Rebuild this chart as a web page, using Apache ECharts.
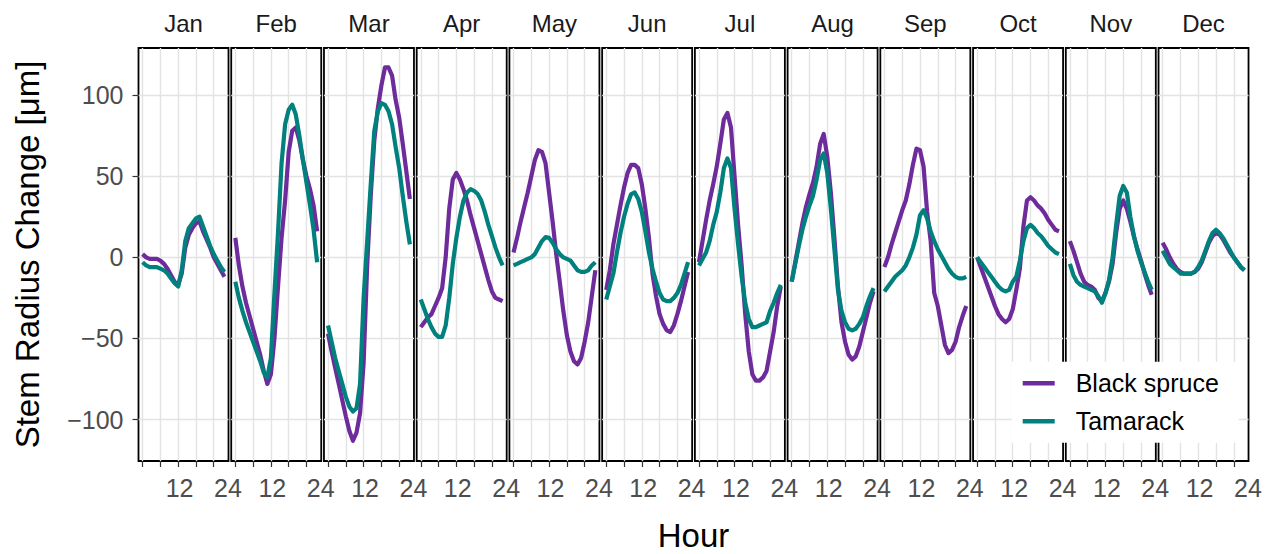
<!DOCTYPE html>
<html>
<head>
<meta charset="utf-8">
<script src="https://cdn.jsdelivr.net/npm/echarts@6/dist/echarts.min.js"></script>
<style>
html,body{margin:0;padding:0;background:#fff;}
#c{width:1276px;height:554px;}
</style>
</head>
<body>
<div id="c"></div>
<script>
// ---------------- data ----------------
const months = ['Jan','Feb','Mar','Apr','May','Jun','Jul','Aug','Sep','Oct','Nov','Dec'];
const hours = [0,1,2,3,4,5,6,7,8,9,10,11,12,13,14,15,16,17,18,19,20,21,22,23];
const seriesNames = ['Black spruce','Tamarack'];
const yTicks = [-100,-50,0,50,100];
const xTicks = [0,5,10,15,20];
const xTickLabels = ['12','24'];
const xTickLabelHours = [10.4,24];

// Black spruce, one row per month (hour 0..23)
const blackSpruce = [
  [2,0,-1,-1,-1,-2,-4,-7,-11,-15,-17,-10,6,14,18,21,22,16,11,6,0,-4,-8,-12],
  [12,-5,-18,-28,-36,-44,-52,-60,-70,-78,-72,-50,-18,12,35,65,78,80,72,60,50,42,32,16],
  [-47,-58,-68,-78,-88,-98,-107,-113,-108,-96,-65,-5,38,72,92,106,117,117,112,97,86,70,53,36],
  [-43,-40,-37,-35,-30,-25,-19,0,30,48,52,48,42,35,26,18,10,2,-6,-14,-21,-25,-26,-27],
  [3,12,22,31,40,50,60,66,65,58,40,22,2,-15,-33,-48,-58,-64,-66,-62,-52,-40,-24,-8],
  [-20,-8,8,20,32,43,52,57,57,55,45,30,12,-10,-24,-35,-41,-45,-46,-42,-35,-27,-18,-9],
  [-3,10,23,35,45,56,70,85,89,80,50,20,-5,-35,-58,-72,-76,-76,-74,-70,-58,-46,-30,-18],
  [-15,-3,9,21,31,39,46,56,70,76,62,40,12,-18,-40,-52,-60,-63,-61,-55,-46,-37,-28,-21],
  [-6,0,8,15,22,29,35,45,57,67,66,56,28,10,-22,-30,-42,-54,-59,-57,-52,-43,-36,-30],
  [0,-6,-12,-18,-24,-30,-35,-38,-40,-38,-32,-20,-7,19,35,37,35,32,30,27,23,20,17,16],
  [10,4,-3,-10,-15,-17,-18,-20,-25,-27,-22,-15,-4,15,30,35,30,22,13,5,-2,-10,-17,-23],
  [9,5,0,-4,-7,-9,-10,-10,-10,-9,-7,-3,3,9,13,15,14,11,7,3,0,-3,-6,-8]
];
// Tamarack, one row per month (hour 0..23)
const tamarack = [
  [-3,-5,-6,-6,-6,-7,-8,-10,-13,-16,-18,-8,10,18,21,24,25,19,13,7,2,-2,-6,-9],
  [-15,-25,-33,-40,-46,-52,-58,-64,-71,-74,-62,-22,15,58,82,91,94,88,75,60,46,32,17,-3],
  [-42,-52,-62,-70,-78,-86,-92,-95,-93,-78,-25,10,45,78,90,95,94,90,82,68,55,38,22,8],
  [-26,-32,-38,-43,-47,-49,-49,-42,-25,-4,12,25,35,40,42,41,39,35,28,20,13,6,0,-5],
  [-5,-4,-3,-2,-1,0,2,6,10,12.5,12,9,5,2,0,-1,-2,-5,-8,-9,-9,-8,-5,-3],
  [-26,-18,-10,3,15,25,33,39,40,36,28,16,3,-7,-15,-22,-26,-27,-27,-25,-22,-17,-10,-3],
  [-5,-1,3,10,20,28,40,55,61,55,30,8,-12,-28,-38,-43,-43,-42,-41,-40,-33,-28,-22,-17],
  [-15,-4,7,17,25,32,38,48,60,64,52,30,5,-20,-33,-40,-44,-45,-44,-41,-37,-30,-24,-19],
  [-21,-18,-15,-12,-10,-8,-5,0,6,14,26,29,24,16,10,5,1,-3,-7,-10,-12,-13,-13,-12],
  [0,-3,-6,-9,-12,-15,-18,-20,-21,-20,-15,-12,-2,10,18,20,18,15,13,10,7,5,3,2],
  [-4,-11,-15,-17,-18,-19,-20,-21,-24,-28,-22,-14,0,20,38,44,40,25,13,4,-3,-9,-15,-20],
  [4,0,-4,-6,-8,-10,-10,-10,-10,-9,-6,-2,4,10,15,17,15,12,8,4,0,-3,-6,-8]
];

// ---------------- layout / style ----------------
const FONT = "'Liberation Sans', Arial, Helvetica, sans-serif";
const COLORS = ['#6E2B9B', '#00817D'];
const L0 = 138.5, W = 90, STEP = 92.73, TOP = 48, H = 413;
const YMIN = -125.5, YMAX = 129, XMIN = -1.15, XMAX = 24.15;
const GRID_COLOR = '#e3e3e3';

const grids = [], xAxes = [], yAxes = [], series = [], titles = [];
months.forEach((m, i) => {
  grids.push({
    left: L0 + i * STEP, top: TOP, width: W, height: H,
    show: true, borderColor: '#000', borderWidth: 1.8, backgroundColor: '#fff',
    containLabel: false, outerBoundsMode: 'none'
  });
  xAxes.push({
    gridIndex: i, type: 'value', min: XMIN, max: XMAX,
    axisLine: {show: false, onZero: false},
    axisTick: {show: true, customValues: xTicks, length: 6, lineStyle: {color: '#333', width: 1.2}},
    axisLabel: {
      customValues: xTickLabelHours,
      formatter: v => xTickLabels[xTickLabelHours.indexOf(v)] || '',
      margin: 14, fontSize: 25, color: '#4d4d4d', fontFamily: FONT
    },
    splitLine: {show: true, lineStyle: {color: GRID_COLOR, width: 1.4}}
  });
  yAxes.push({
    gridIndex: i, type: 'value', min: YMIN, max: YMAX,
    axisLine: {show: false, onZero: false},
    axisTick: {show: i === 0, customValues: yTicks, length: 6, lineStyle: {color: '#333', width: 1.2}},
    axisLabel: {show: i === 0, customValues: yTicks, margin: 15, fontSize: 25, color: '#4d4d4d', fontFamily: FONT,
      formatter: v => (v < 0 ? '\u2212' + Math.abs(v) : String(v))},
    splitLine: {show: true, lineStyle: {color: GRID_COLOR, width: 1.4}},
    name: i === 0 ? 'Stem Radius Change [\u03bcm]' : '',
    nameLocation: 'middle', nameRotate: 90, nameGap: 95,
    nameTextStyle: {fontSize: 33, color: '#000', fontFamily: FONT}
  });
  [blackSpruce, tamarack].forEach((src, s) => {
    series.push({
      type: 'line', name: seriesNames[s], xAxisIndex: i, yAxisIndex: i,
      data: hours.map((h, k) => [h, src[i][k]]),
      showSymbol: false, symbol: 'none', animation: false,
      lineStyle: {width: 4.2, color: COLORS[s], cap: 'butt', join: 'round'},
      itemStyle: {color: COLORS[s]}
    });
  });
  titles.push({
    text: m, left: L0 + i * STEP + W / 2, top: 23.9, padding: 0,
    textAlign: 'center', textVerticalAlign: 'middle',
    textStyle: {fontSize: 24, fontWeight: 'normal', color: '#1a1a1a', fontFamily: FONT}
  });
});

// overlay grid carrying the shared x-axis title
grids.push({left: L0, top: TOP, width: 11 * STEP + W, height: H, show: false, containLabel: false, outerBoundsMode: 'none'});
xAxes.push({
  gridIndex: 12, type: 'value', min: 0, max: 1,
  axisLine: {show: false, onZero: false}, axisTick: {show: false}, axisLabel: {show: false}, splitLine: {show: false},
  name: 'Hour', nameLocation: 'middle', nameGap: 58,
  nameTextStyle: {fontSize: 33, color: '#000', fontFamily: FONT}
});
yAxes.push({gridIndex: 12, type: 'value', min: 0, max: 1, show: false});

const option = {
  animation: false,
  backgroundColor: '#fff',
  title: titles,
  grid: grids,
  xAxis: xAxes,
  yAxis: yAxes,
  legend: {
    data: seriesNames, orient: 'vertical', left: 1011.7, top: 361.7,
    backgroundColor: '#fff', padding: [9, 20, 9, 11], itemGap: 13,
    itemWidth: 32, itemHeight: 4.5, icon: 'rect', selectedMode: false,
    textStyle: {fontSize: 25, color: '#000', fontFamily: FONT, padding: [0, 0, 0, 16]}
  },
  series: series
};

const chart = echarts.init(document.getElementById('c'), null, {renderer: 'svg'});
chart.setOption(option);
</script>
</body>
</html>
